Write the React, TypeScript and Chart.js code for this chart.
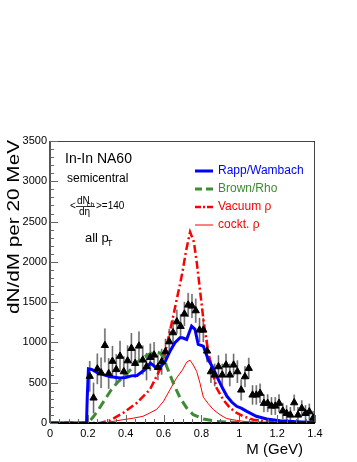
import React, { useEffect, useRef } from "react";
import { Chart, registerables } from "chart.js";

Chart.register(...registerables);

// ---- data points (NA60 excess, 20 MeV bins) ----
const dataM = [
  0.21, 0.23, 0.25, 0.27, 0.29, 0.31, 0.33, 0.35, 0.37, 0.39,
  0.41, 0.43, 0.45, 0.47, 0.49, 0.51, 0.53, 0.55, 0.57, 0.59,
  0.61, 0.63, 0.65, 0.67, 0.69, 0.71, 0.73, 0.75, 0.77, 0.79,
  0.81, 0.83, 0.85, 0.87, 0.89, 0.91, 0.93, 0.95, 0.97, 0.99,
  1.01, 1.03, 1.05, 1.07, 1.09, 1.11, 1.13, 1.15, 1.17, 1.19,
  1.21, 1.23, 1.25, 1.27, 1.29, 1.31, 1.33, 1.35, 1.37, 1.39,
];
const dataY = [
  580, 311, 672, 623, 963, 614, 767, 664, 829, 637,
  773, 927, 741, 956, 782, 700, 815, 844, 691, 760,
  885, 1009, 1121, 1257, 1200, 1353, 1465, 1452, 1394, 1154,
  1154, 894, 637, 596, 699, 596, 720, 596, 720, 637,
  410, 575, 679, 348, 348, 369, 245, 245, 211, 211,
  245, 150, 120, 99, 252, 99, 182, 120, 140, 60,
];
const dataErr = [
  190, 190, 190, 190, 210, 190, 190, 190, 190, 190,
  190, 190, 180, 180, 180, 170, 170, 160, 160, 160,
  160, 160, 160, 150, 150, 150, 150, 150, 150, 150,
  150, 140, 140, 140, 140, 140, 140, 140, 140, 140,
  130, 130, 130, 120, 120, 120, 110, 110, 110, 110,
  110, 100, 100, 100, 100, 100, 100, 100, 100, 90,
];

// ---- model curves ----
const rappM = [0, 0.193, 0.197, 0.203, 0.22, 0.25, 0.28, 0.32, 0.37, 0.4, 0.43, 0.46, 0.5, 0.53, 0.56, 0.585, 0.61, 0.634, 0.66, 0.687, 0.7, 0.722, 0.748, 0.766, 0.783, 0.81, 0.836, 0.86, 0.885, 0.91, 0.935, 0.96, 0.986, 1.01, 1.04, 1.09, 1.145, 1.215, 1.3, 1.4];
const rappY = [0, 0, 330, 672, 665, 625, 600, 575, 560, 565, 585, 590, 660, 745, 690, 700, 770, 892, 996, 1058, 1058, 1037, 1203, 1162, 975, 954, 788, 690, 560, 440, 331, 260, 207, 185, 145, 83, 50, 29, 16, 5];

const brownM = [0, 0.2, 0.23, 0.26, 0.29, 0.32, 0.355, 0.4, 0.45, 0.48, 0.53, 0.56, 0.58, 0.6, 0.616, 0.651, 0.687, 0.722, 0.757, 0.81, 0.88, 1.0, 1.1, 1.4];
const brownY = [0, 0, 80, 180, 290, 400, 500, 600, 720, 800, 860, 880, 870, 820, 705, 498, 311, 187, 103, 50, 20, 5, 0, 0];

const vacM = [0, 0.264, 0.317, 0.387, 0.458, 0.528, 0.581, 0.616, 0.651, 0.696, 0.72, 0.74, 0.76, 0.775, 0.79, 0.81, 0.828, 0.854, 0.881, 0.915, 0.951, 0.986, 1.021, 1.074, 1.145, 1.25, 1.4];
const vacY = [0, 0, 32, 125, 249, 415, 664, 954, 1328, 1826, 2150, 2370, 2250, 2000, 1700, 1290, 1000, 664, 430, 290, 187, 125, 83, 41, 20, 5, 0];

const cocktM = [0, 0.28, 0.32, 0.386, 0.44, 0.491, 0.528, 0.564, 0.6, 0.634, 0.669, 0.7, 0.722, 0.74, 0.757, 0.775, 0.792, 0.81, 0.836, 0.863, 0.898, 0.933, 0.986, 1.039, 1.15, 1.4];
const cocktY = [0, 0, 15, 41, 60, 83, 125, 170, 270, 415, 560, 660, 755, 780, 720, 640, 498, 320, 240, 166, 103, 55, 32, 16, 5, 0];

const legendLabels = ["Rapp/Wambach", "Brown/Rho", "Vacuum ρ", "cockt. ρ"];
const xTicks = [0, 0.2, 0.4, 0.6, 0.8, 1.0, 1.2, 1.4];
const yTicks = [0, 500, 1000, 1500, 2000, 2500, 3000, 3500];

const FONT = "'Liberation Sans', Arial, Helvetica, sans-serif";
const BLUE = "#0000ff";
const GREEN = "#3d8c33";
const RED = "#ff0000";

const pairs = (m: number[], y: number[]) => m.map((v, i) => ({ x: v, y: y[i] }));

export default function App() {
  const ref = useRef<HTMLCanvasElement>(null);

  useEffect(() => {
    if (!ref.current) return;

    const errorBars = {
      id: "errorBars",
      beforeDatasetsDraw(chart: any) {
        const { ctx, scales } = chart;
        const xs = scales.x, ys = scales.y;
        ctx.save();
        dataM.forEach((m, i) => {
          const px = xs.getPixelForValue(m);
          const y1 = Math.min(ys.getPixelForValue(dataY[i] - dataErr[i]), chart.chartArea.bottom);
          const y2 = ys.getPixelForValue(dataY[i] + dataErr[i]);
          ctx.strokeStyle = "#b0b0b0";
          ctx.lineWidth = 2;
          ctx.beginPath();
          ctx.moveTo(px, y1);
          ctx.lineTo(px, y2);
          ctx.stroke();
          ctx.strokeStyle = "#555555";
          ctx.lineWidth = 0.8;
          ctx.beginPath();
          ctx.moveTo(px, y1);
          ctx.lineTo(px, y2);
          ctx.stroke();
        });
        ctx.restore();
      },
    };

    const decorations = {
      id: "decorations",
      afterDraw(chart: any) {
        const { ctx, chartArea: a, scales } = chart;
        const xs = scales.x, ys = scales.y;
        ctx.save();
        // frame
        ctx.strokeStyle = "#444";
        ctx.lineWidth = 1;
        ctx.strokeRect(a.left + 0.5, a.top + 0.5, a.right - a.left - 1, a.bottom - a.top);
        ctx.strokeStyle = "#555";
        ctx.lineWidth = 2;
        ctx.beginPath();
        ctx.moveTo(a.left, a.top);
        ctx.lineTo(a.left, a.bottom);
        ctx.stroke();
        ctx.strokeStyle = "#000";
        ctx.beginPath();
        ctx.moveTo(a.left, a.bottom);
        ctx.lineTo(a.right, a.bottom);
        ctx.stroke();
        // ticks (inward)
        ctx.strokeStyle = "#666";
        ctx.lineWidth = 1;
        for (let v = 0; v <= 3500; v += 100) {
          const py = Math.round(ys.getPixelForValue(v)) + 0.5;
          const len = v % 500 === 0 ? 8 : 4;
          ctx.beginPath();
          ctx.moveTo(a.left, py);
          ctx.lineTo(a.left + len, py);
          ctx.stroke();
        }
        for (let i = 0; i <= 28; i++) {
          const px = Math.round(xs.getPixelForValue(i * 0.05)) + 0.5;
          const len = i % 4 === 0 ? 8 : 4;
          ctx.beginPath();
          ctx.moveTo(px, a.bottom);
          ctx.lineTo(px, a.bottom - len);
          ctx.stroke();
        }

        // axis titles
        ctx.fillStyle = "#000";
        ctx.font = `15px ${FONT}`;
        ctx.textAlign = "right";
        ctx.textBaseline = "alphabetic";
        ctx.fillText("M (GeV)", 303, 454);
        ctx.save();
        ctx.translate(19, 140);
        ctx.rotate(-Math.PI / 2);
        ctx.scale(1.22, 1);
        ctx.font = `17px ${FONT}`;
        ctx.textAlign = "right";
        ctx.fillText("dN/dM per 20 MeV", 0, 0);
        ctx.restore();

        // annotations
        ctx.textAlign = "left";
        ctx.font = `14px ${FONT}`;
        ctx.fillText("In-In NA60", 65, 163);
        ctx.font = `12px ${FONT}`;
        ctx.fillText("semicentral", 67, 182);
        ctx.font = `10px ${FONT}`;
        ctx.fillText("<", 70, 209);
        ctx.fillText("dN", 77, 204);
        ctx.font = `7px ${FONT}`;
        ctx.fillText("ch", 87, 207);
        ctx.font = `10px ${FONT}`;
        ctx.fillText("dη", 79, 215);
        ctx.fillText(">=140", 96, 209);
        ctx.strokeStyle = "#000";
        ctx.lineWidth = 0.8;
        ctx.beginPath();
        ctx.moveTo(76, 206.5);
        ctx.lineTo(95, 206.5);
        ctx.stroke();
        ctx.font = `13px ${FONT}`;
        ctx.fillText("all p", 85, 242);
        ctx.font = `9px ${FONT}`;
        ctx.fillText("T", 107, 246);

        // legend
        const rows = [
          { c: BLUE, w: 3, d: [] as number[] },
          { c: GREEN, w: 3, d: [7, 4] },
          { c: RED, w: 2.5, d: [6, 2, 2, 2] },
          { c: RED, w: 1, d: [] as number[] },
        ];
        const rowY = [171, 189, 207, 225];
        ctx.font = `12px ${FONT}`;
        ctx.textBaseline = "middle";
        rows.forEach((r, i) => {
          ctx.strokeStyle = r.c;
          ctx.lineWidth = r.w;
          ctx.setLineDash(r.d);
          ctx.beginPath();
          ctx.moveTo(195, rowY[i]);
          ctx.lineTo(213, rowY[i]);
          ctx.stroke();
          ctx.setLineDash([]);
          ctx.fillStyle = r.c;
          ctx.fillText(legendLabels[i], 218, rowY[i]);
        });
        ctx.restore();
      },
    };

    const chart = new Chart(ref.current, {
      type: "scatter",
      data: {
        datasets: [
          {
            label: "NA60",
            data: pairs(dataM, dataY),
            pointStyle: "triangle",
            pointRadius: 4.2,
            backgroundColor: "#000",
            borderColor: "#000",
            borderWidth: 1,
            showLine: false,
          },
          {
            label: legendLabels[0],
            data: pairs(rappM, rappY),
            showLine: true,
            borderColor: BLUE,
            borderWidth: 3,
            pointRadius: 0,
            tension: 0,
          },
          {
            label: legendLabels[1],
            data: pairs(brownM, brownY),
            showLine: true,
            borderColor: GREEN,
            borderWidth: 3,
            borderDash: [9, 5],
            pointRadius: 0,
            tension: 0,
          },
          {
            label: legendLabels[2],
            data: pairs(vacM, vacY),
            showLine: true,
            borderColor: RED,
            borderWidth: 2.5,
            borderDash: [8, 3, 2, 3],
            pointRadius: 0,
            tension: 0,
          },
          {
            label: legendLabels[3],
            data: pairs(cocktM, cocktY),
            showLine: true,
            borderColor: RED,
            borderWidth: 1,
            pointRadius: 0,
            tension: 0,
          },
        ],
      },
      options: {
        responsive: false,
        animation: false,
        devicePixelRatio: 1,
        layout: { padding: { top: 141, right: 42, left: 0, bottom: 0 } },
        plugins: { legend: { display: false }, tooltip: { enabled: false } },
        scales: {
          x: {
            type: "linear",
            min: 0,
            max: 1.4,
            afterFit: (s: any) => { s.height = 39; },
            afterBuildTicks: (s: any) => { s.ticks = xTicks.map((v) => ({ value: v })); },
            grid: { display: false, drawTicks: false },
            border: { display: false },
            ticks: {
              padding: 4,
              color: "#000",
              font: { family: FONT, size: 11 },
              maxRotation: 0,
              autoSkip: false,
              callback: (v: any) => String(Number(Number(v).toFixed(1))),
            },
          },
          y: {
            type: "linear",
            min: 0,
            max: 3500,
            afterFit: (s: any) => { s.width = 50; },
            afterBuildTicks: (s: any) => { s.ticks = yTicks.map((v) => ({ value: v })); },
            grid: { display: false, drawTicks: false },
            border: { display: false },
            ticks: {
              padding: 3,
              color: "#000",
              font: { family: FONT, size: 11 },
              autoSkip: false,
              callback: (v: any) => String(v),
            },
          },
        },
      },
      plugins: [errorBars, decorations],
    });
    return () => chart.destroy();
  }, []);

  return (
    <div style={{ position: "absolute", left: 0, top: 0, width: 357, height: 462, background: "#fff" }}>
      <canvas ref={ref} width={357} height={462} style={{ display: "block", width: 357, height: 462 }} />
    </div>
  );
}
